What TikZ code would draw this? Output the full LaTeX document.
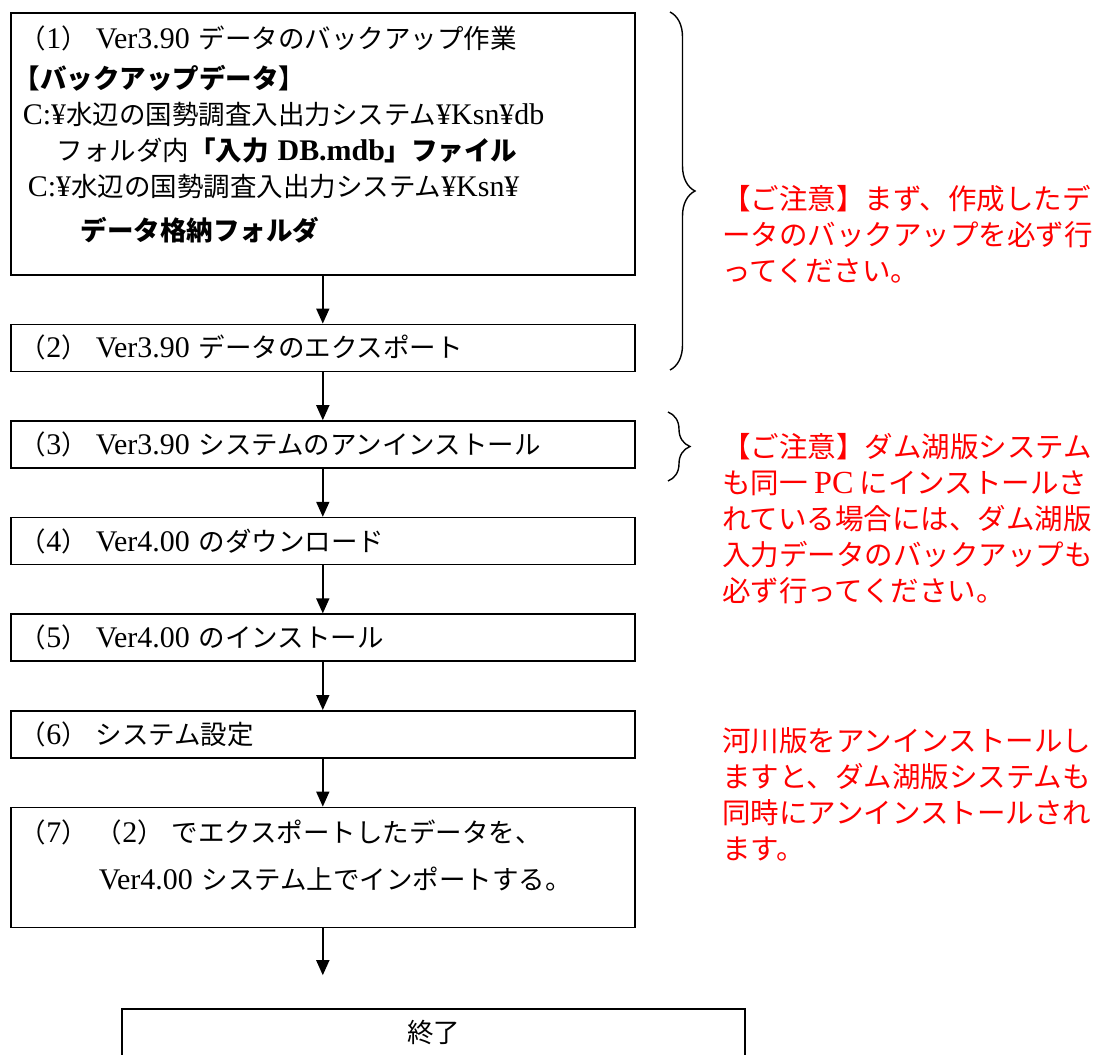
\documentclass[tikz,border=0pt]{standalone}
\usepackage{fontspec}
\setmainfont{Noto Sans CJK JP}
\newfontfamily\lat{Liberation Serif}[Scale=1.13]
\usetikzlibrary{positioning,arrows.meta,decorations.pathreplacing}

\newcommand{\la}[1]{{\lat #1}}
\newcommand{\no}[1]{（\la{#1}）\hspace{8pt}}

\tikzset{
  stepbox/.style={draw, line width=1.6pt, minimum height=47pt, text width=606pt,
    align=left, inner xsep=9pt, font=\fontsize{26.5}{36}\selectfont},
  flow/.style={-{Triangle[length=15pt,width=13pt]}, line width=1.6pt},
  note/.style={text=red, align=left, anchor=north west, inner sep=0pt,
    font=\fontsize{28.5}{36}\selectfont},
  curly/.style={decorate, decoration={brace, amplitude=#1}, line width=1.4pt}
}

\begin{document}
\begin{tikzpicture}[x=1pt,y=1pt,node distance=48pt]
\clip (0,0) rectangle (1099,-1054);

% steps
\node[stepbox, minimum height=262pt, anchor=north west] (s1) at (10,-12)
  {\no{1}\la{Ver3.90} データのバックアップ作業\\[4pt]
   \hspace{-6pt}\textbf{【バックアップデータ】}\\
   \hspace{3pt}\la{C:¥}水辺の国勢調査入出力システム\la{¥Ksn¥db}\\
   \hspace{37pt}フォルダ内\textbf{「入力 \la{DB.mdb}」ファイル}\\
   \hspace{8pt}\la{C:¥}水辺の国勢調査入出力システム\la{¥Ksn¥}\\[8pt]
   \hspace{61pt}\textbf{データ格納フォルダ}\\[-14pt]\mbox{}};
\node[stepbox, below=of s1] (s2) {\no{2}\la{Ver3.90} データのエクスポート};
\node[stepbox, below=of s2] (s3) {\no{3}\la{Ver3.90} システムのアンインストール};
\node[stepbox, below=of s3] (s4) {\no{4}\la{Ver4.00} のダウンロード};
\node[stepbox, below=of s4] (s5) {\no{5}\la{Ver4.00} のインストール};
\node[stepbox, below=of s5] (s6) {\no{6}システム設定};
\node[stepbox, below=of s6, minimum height=120pt] (s7)
  {\no{7}\no{2}でエクスポートしたデータを、\\[11pt]
   \hspace{79pt}\la{Ver4.00} システム上でインポートする。\\[-11pt]\mbox{}};
\coordinate[below=47pt of s7] (tail);
\node[stepbox, text width=605pt, align=center, anchor=north] (fin) at (433.5,-1008) {終了};

\foreach \a/\b in {s1/s2,s2/s3,s3/s4,s4/s5,s5/s6,s6/s7}
  \draw[flow] (\a) -- (\b);
\draw[flow] (s7) -- (tail);

% notes
\draw[curly=25pt] (670,-12) -- (670,-370);
\draw[curly=22pt] (668,-412) -- (668,-481);

\node[note] (n1) at (722,-185)
  {【ご注意】まず、作成したデ\\ータのバックアップを必ず行\\ってください。};
\node[note] (n2) at (722,-433)
  {【ご注意】ダム湖版システム\\も同一 \la{PC} にインストールさ\\れている場合には、ダム湖版\\入力データのバックアップも\\必ず行ってください。};
\node[note] (n3) at (722,-727)
  {河川版をアンインストールし\\ますと、ダム湖版システムも\\同時にアンインストールされ\\ます。};
\end{tikzpicture}
\end{document}
